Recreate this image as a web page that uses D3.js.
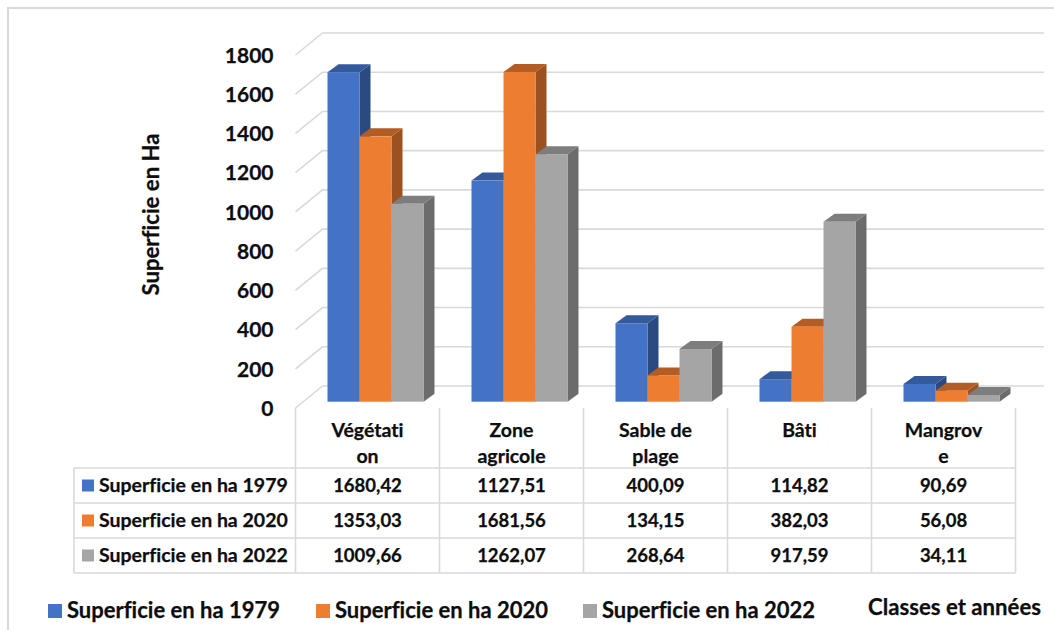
<!DOCTYPE html>
<html>
<head>
<meta charset="utf-8">
<script src="https://cdn.jsdelivr.net/npm/d3@7"></script>
<style>
  html, body { margin: 0; padding: 0; background: #fff; }
  text { font-family: Lato, "Open Sans", sans-serif; font-weight: 700; fill: #0d0d0d; stroke: #0d0d0d; stroke-width: 0.25px; font-variant-ligatures: none; }
</style>
</head>
<body>
<div id="chart"></div>
<script>
// data
var categories = [["Végétati", "on"], ["Zone", "agricole"], ["Sable de", "plage"], ["Bâti"], ["Mangrov", "e"]];
var seriesNames = ["Superficie en ha 1979", "Superficie en ha 2020", "Superficie en ha 2022"];
var values1979 = [1680.42, 1127.51, 400.09, 114.82, 90.69];
var values2020 = [1353.03, 1681.56, 134.15, 382.03, 56.08];
var values2022 = [1009.66, 1262.07, 268.64, 917.59, 34.11];
var allValues = [values1979, values2020, values2022];
var yTicks = [0, 200, 400, 600, 800, 1000, 1200, 1400, 1600, 1800];

var frontColors = ["#4472C4", "#ED7D31", "#A5A5A5"];
var topColors = ["#345A9C", "#B35D25", "#7D7D7D"];
var sideColors = ["#2A4A80", "#9C5120", "#6C6C6C"];
var gridColor = "#D9D9D9";

var width = 1054, height = 630;
var left = 295.5, right = 1015.5, yZero = 408, yTop = 55;
var wallX = 27, wallY = 22;       // offset of the back wall
var barDepthX = 11, barDepthY = 8; // depth of the 3d bars
var barShiftX = 8, barShiftY = 6.3;  // bars stand a bit behind the front plane

var svg = d3.select("#chart").append("svg")
    .attr("width", width)
    .attr("height", height)
    .style("display", "block");

// outer frame, cropped at right and bottom
svg.append("path")
    .attr("d", "M8,630V8H1054")
    .attr("fill", "none")
    .attr("stroke", gridColor)
    .attr("stroke-width", 2);

var y = d3.scaleLinear().domain([0, 1800]).range([yZero, yTop]);
var x0 = d3.scaleBand().domain(d3.range(categories.length)).range([left, right]);
var x1 = d3.scaleBand().domain(d3.range(seriesNames.length)).range([0, x0.bandwidth()]).paddingInner(0).paddingOuter(0.75);

// grid on the side and back walls
var grid = svg.append("g").attr("fill", "none").attr("stroke", gridColor).attr("stroke-width", 1.6);
yTicks.forEach(function(t) {
  grid.append("path")
    .attr("d", "M" + left + "," + y(t) + "L" + (left + wallX) + "," + (y(t) - wallY) + "H1044");
});

// y axis, only the labels are visible
var axis = svg.append("g")
    .attr("transform", "translate(" + (left - 19) + ",0.5)")
    .call(d3.axisLeft(y).tickValues(yTicks).tickSize(0).tickPadding(3).tickFormat(d3.format("d")));
axis.select(".domain").remove();
axis.selectAll("text").style("font-size", "21px").style("font-family", "Lato");

// each bar covers the side of the previous one
categories.forEach(function(c, i) {
  allValues.forEach(function(vals, s) {
    var bx = x0(i) + x1(s) + barShiftX;
    var bw = x1.bandwidth();
    var base = y(0) - barShiftY;
    var top = y(vals[i]) - barShiftY;
    var g = svg.append("g");
    g.append("path")
      .attr("fill", sideColors[s])
      .attr("d", "M" + (bx + bw) + "," + top + "l" + barDepthX + "," + (-barDepthY) + "V" + (base - barDepthY) + "l" + (-barDepthX) + "," + barDepthY + "Z");
    g.append("path")
      .attr("fill", topColors[s])
      .attr("d", "M" + bx + "," + top + "l" + barDepthX + "," + (-barDepthY) + "h" + bw + "l" + (-barDepthX) + "," + barDepthY + "Z");
    g.append("rect")
      .attr("x", bx).attr("y", top)
      .attr("width", bw).attr("height", base - top)
      .attr("fill", frontColors[s]);
  });
});

// data table
var rowY = d3.scaleBand().domain(d3.range(seriesNames.length)).range([468, 573]);
var tableLeft = 74;
var lines = svg.append("g").attr("stroke", gridColor).attr("stroke-width", 1.6);
d3.range(categories.length + 1).forEach(function(i) {
  var xx = i < categories.length ? x0(i) : right;
  lines.append("line").attr("x1", xx).attr("x2", xx).attr("y1", yZero).attr("y2", 573);
});
lines.append("line").attr("x1", tableLeft).attr("x2", tableLeft).attr("y1", 468).attr("y2", 573);
d3.range(seriesNames.length + 1).forEach(function(r) {
  var yy = r < seriesNames.length ? rowY(r) : 573;
  lines.append("line").attr("x1", tableLeft).attr("x2", right).attr("y1", yy).attr("y2", yy);
});

categories.forEach(function(c, i) {
  c.forEach(function(line, l) {
    svg.append("text")
      .attr("x", x0(i) + x0.bandwidth() / 2)
      .attr("y", 436.5 + l * 26)
      .attr("text-anchor", "middle")
      .style("font-size", "19.5px")
      .text(line);
  });
});

var fmt = function(v) { return v.toFixed(2).replace(".", ","); };
seriesNames.forEach(function(name, s) {
  var cy = rowY(s) + rowY.bandwidth() / 2;
  svg.append("rect")
    .attr("x", 82).attr("y", cy - 6)
    .attr("width", 12).attr("height", 12)
    .attr("fill", frontColors[s]);
  svg.append("text")
    .attr("x", 99).attr("y", cy + 6)
    .style("font-size", "19.5px")
    .text(name);
  allValues[s].forEach(function(v, i) {
    svg.append("text")
      .attr("x", x0(i) + x0.bandwidth() / 2)
      .attr("y", cy + 6)
      .attr("text-anchor", "middle")
      .style("font-size", "18.5px")
      .text(fmt(v));
  });
});

// legend
var legendX = [48, 316, 583];
seriesNames.forEach(function(name, s) {
  svg.append("rect")
    .attr("x", legendX[s]).attr("y", 604)
    .attr("width", 14).attr("height", 14)
    .attr("fill", frontColors[s]);
  svg.append("text")
    .attr("x", legendX[s] + 19).attr("y", 618)
    .style("font-size", "22px")
    .text(name);
});

// axis titles
svg.append("text")
    .attr("x", 868).attr("y", 615)
    .style("font-size", "22.2px")
    .text("Classes et années");
svg.append("text")
    .attr("transform", "translate(159,214.5) rotate(-90)")
    .attr("text-anchor", "middle")
    .style("font-size", "22.2px")
    .text("Superficie en Ha");
</script>
</body>
</html>
